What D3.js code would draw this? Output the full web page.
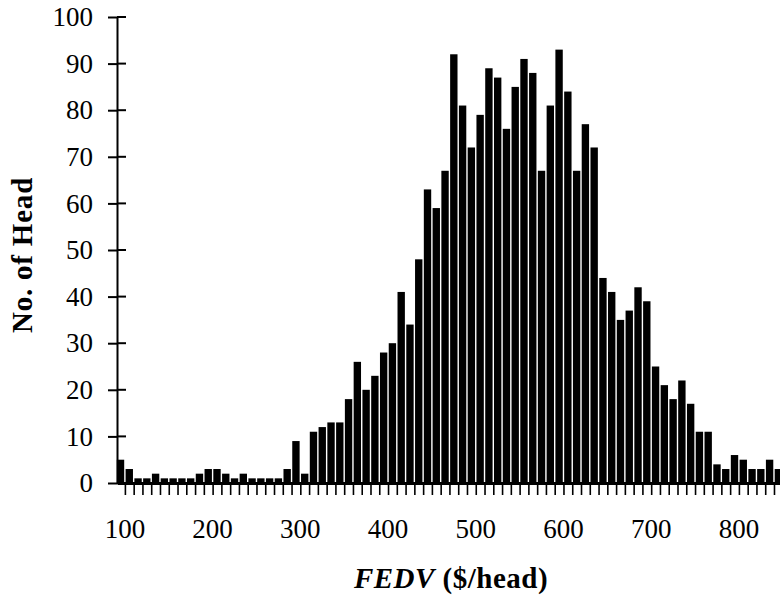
<!DOCTYPE html>
<html>
<head>
<meta charset="utf-8">
<script src="https://cdn.jsdelivr.net/npm/d3@7"></script>
<style>
  body { margin: 0; background: #fff; }
  svg { display: block; font-family: "Liberation Serif", "Times New Roman", serif; }
</style>
</head>
<body>
<div class="fedv-chart"></div>
<script>
"use strict";

// histogram bins, $10 wide (start of each bin)
const binStarts = [
  90, 100, 110, 120, 130, 140, 150, 160, 170, 180, 190, 200, 210, 220, 230, 240,
  250, 260, 270, 280, 290, 300, 310, 320, 330, 340, 350, 360, 370, 380, 390, 400,
  410, 420, 430, 440, 450, 460, 470, 480, 490, 500, 510, 520, 530, 540, 550, 560,
  570, 580, 590, 600, 610, 620, 630, 640, 650, 660, 670, 680, 690, 700, 710, 720,
  730, 740, 750, 760, 770, 780, 790, 800, 810, 820, 830, 840
];

const headCounts = [
  5, 3, 1, 1, 2, 1, 1, 1, 1, 2, 3, 3, 2, 1, 2, 1,
  1, 1, 1, 3, 9, 2, 11, 12, 13, 13, 18, 26, 20, 23, 28, 30,
  41, 34, 48, 63, 59, 67, 92, 81, 72, 79, 89, 87, 76, 85, 91, 88,
  67, 81, 93, 84, 67, 77, 72, 44, 41, 35, 37, 42, 39, 25, 21, 18,
  22, 17, 11, 11, 4, 3, 6, 5, 3, 3, 5, 3
];

const yTicks = [0, 10, 20, 30, 40, 50, 60, 70, 80, 90, 100];
const xLabels = [100, 200, 300, 400, 500, 600, 700, 800];
const xMinorTicks = [
  100, 110, 120, 130, 140, 150, 160, 170, 180, 190, 200, 210, 220, 230, 240, 250,
  260, 270, 280, 290, 300, 310, 320, 330, 340, 350, 360, 370, 380, 390, 400, 410,
  420, 430, 440, 450, 460, 470, 480, 490, 500, 510, 520, 530, 540, 550, 560, 570,
  580, 590, 600, 610, 620, 630, 640, 650, 660, 670, 680, 690, 700, 710, 720, 730,
  740, 750, 760, 770, 780, 790, 800, 810, 820, 830, 840
];

const bins = binStarts.map((s, i) => ({ start: s, count: headCounts[i] }));

const width = 780;
const height = 596;

const x = d3.scaleLinear().domain([91, 848]).range([117, 781]);
const y = d3.scaleLinear().domain([0, 100]).range([483, 17]);

const svg = d3
  .select(".fedv-chart")
  .append("svg")
  .attr("width", width)
  .attr("height", height);

// bars
svg
  .selectAll("rect.bar")
  .data(bins)
  .enter()
  .append("rect")
  .attr("class", "bar")
  .attr("x", (d) => x(d.start) + 0.7)
  .attr("width", (d) => x(d.start + 10) - x(d.start) - 1.4)
  .attr("y", (d) => y(d.count))
  .attr("height", (d) => y(0) - y(d.count))
  .style("fill", "#000");

// x axis with minor ticks
const xAxis = svg
  .append("g")
  .attr("transform", `translate(0,${y(0)})`)
  .call(
    d3.axisBottom(x).tickValues(xMinorTicks).tickSize(12).tickSizeOuter(0).tickFormat("")
  );
xAxis.select(".domain").attr("stroke", "#000").attr("stroke-width", 3);
xAxis.selectAll(".tick line").attr("stroke", "#000").attr("stroke-width", 1.6);

svg
  .selectAll("text.xlabel")
  .data(xLabels)
  .enter()
  .append("text")
  .attr("class", "xlabel")
  .attr("x", (d) => x(d))
  .attr("y", 538)
  .attr("text-anchor", "middle")
  .style("font-size", "27px")
  .text((d) => d);

// y axis, ticks cross the line
const yAxis = svg
  .append("g")
  .attr("transform", `translate(${x(91)},0)`)
  .call(d3.axisLeft(y).tickValues(yTicks).tickSize(9).tickSizeOuter(0).tickPadding(15));
yAxis.select(".domain").attr("stroke", "#000").attr("stroke-width", 2);
yAxis.selectAll(".tick line").attr("stroke", "#000").attr("stroke-width", 2);
yAxis
  .selectAll(".tick text")
  .attr("fill", "#000")
  .style("font-size", "27px")
  .style("font-family", "Liberation Serif, serif");

yAxis
  .selectAll("line.right")
  .data(yTicks)
  .enter()
  .append("line")
  .attr("class", "right")
  .attr("x1", 0)
  .attr("x2", 9)
  .attr("y1", (d) => y(d))
  .attr("y2", (d) => y(d))
  .attr("stroke", "#000")
  .attr("stroke-width", 2);

// axis titles
svg
  .append("text")
  .attr("transform", "translate(32,255) rotate(-90)")
  .attr("text-anchor", "middle")
  .style("font-size", "29px")
  .style("font-weight", "bold")
  .style("letter-spacing", "0.8px")
  .text("No. of Head");

const xTitle = svg
  .append("text")
  .attr("x", 451)
  .attr("y", 588)
  .attr("text-anchor", "middle")
  .style("font-size", "29px")
  .style("font-weight", "bold")
  .style("letter-spacing", "0.5px");
xTitle.append("tspan").style("font-style", "italic").text("FEDV");
xTitle.append("tspan").text(" ($/head)");
</script>
</body>
</html>
